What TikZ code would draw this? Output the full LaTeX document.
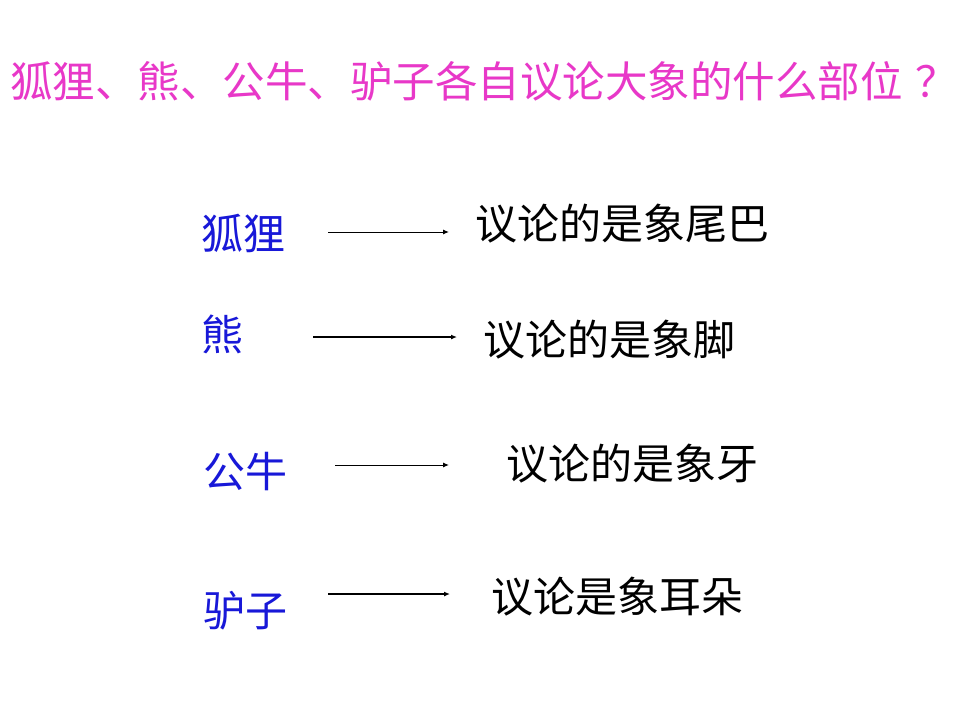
\documentclass[tikz,border=0pt]{standalone}
\usepackage{fontspec}
\usepackage{xcolor}
\usepackage{tikz}
\usetikzlibrary{calc, arrows, arrows.meta, positioning}
\newfontfamily\cjk{Noto Sans CJK SC}
\definecolor{titlepink}{RGB}{232, 56, 200}
\definecolor{animalblue}{RGB}{24, 24, 216}
\tikzset{
    titlenode/.style = {draw=none, fill=none, rectangle, inner sep = 0em, anchor=west, 
      text=titlepink, font=\cjk\fontsize{42.5}{48}\selectfont},
    animalnode/.style = {draw=none, fill=none, rectangle, inner sep = 0em, anchor=west, 
      text=animalblue, font=\cjk\fontsize{42}{48}\selectfont},
    partnode/.style = {draw=none, fill=none, rectangle, inner sep = 0em, anchor=west, 
      text=black, font=\cjk\fontsize{42}{48}\selectfont},
    connect/.style = {black, line width=1pt, -{Latex[length=6pt, width=5pt]}},
    thickconnect/.style = {connect, line width=2pt}
}

\begin{document}
\begin{tikzpicture}[x=1pt, y=-1pt]
    \useasboundingbox[fill=white] (0,0) rectangle (960,720);

    \node[titlenode, name=Question] at (10,81) {狐狸、熊、公牛、驴子各自议论大象的什么部位\kern0.3em？};

    \node[animalnode, name=Fox] at (201,233) {狐狸};
    \node[partnode, name=FoxPart] at (475,224) {议论的是象尾巴};
    \coordinate (FoxFrom) at (328,232);
    \coordinate (FoxTo) at (449,232);
    \draw[connect] (FoxFrom) -- (FoxTo);

    \node[animalnode, name=Bear] at (201,334) {熊};
    \node[partnode, name=BearPart] at (483,340) {议论的是象脚};
    \coordinate (BearFrom) at (313,337);
    \coordinate (BearTo) at (457,337);
    \draw[thickconnect] (BearFrom) -- (BearTo);

    \node[animalnode, name=Bull] at (203,472) {公牛};
    \node[partnode, name=BullPart] at (506,464) {议论的是象牙};
    \coordinate (BullFrom) at (335,465);
    \coordinate (BullTo) at (449,465);
    \draw[connect] (BullFrom) -- (BullTo);

    \node[animalnode, name=Donkey] at (203,611) {驴子};
    \node[partnode, name=DonkeyPart] at (491,597) {议论是象耳朵};
    \coordinate (DonkeyFrom) at (328,594);
    \coordinate (DonkeyTo) at (450,594);
    \draw[thickconnect] (DonkeyFrom) -- (DonkeyTo);
\end{tikzpicture}
\end{document}
